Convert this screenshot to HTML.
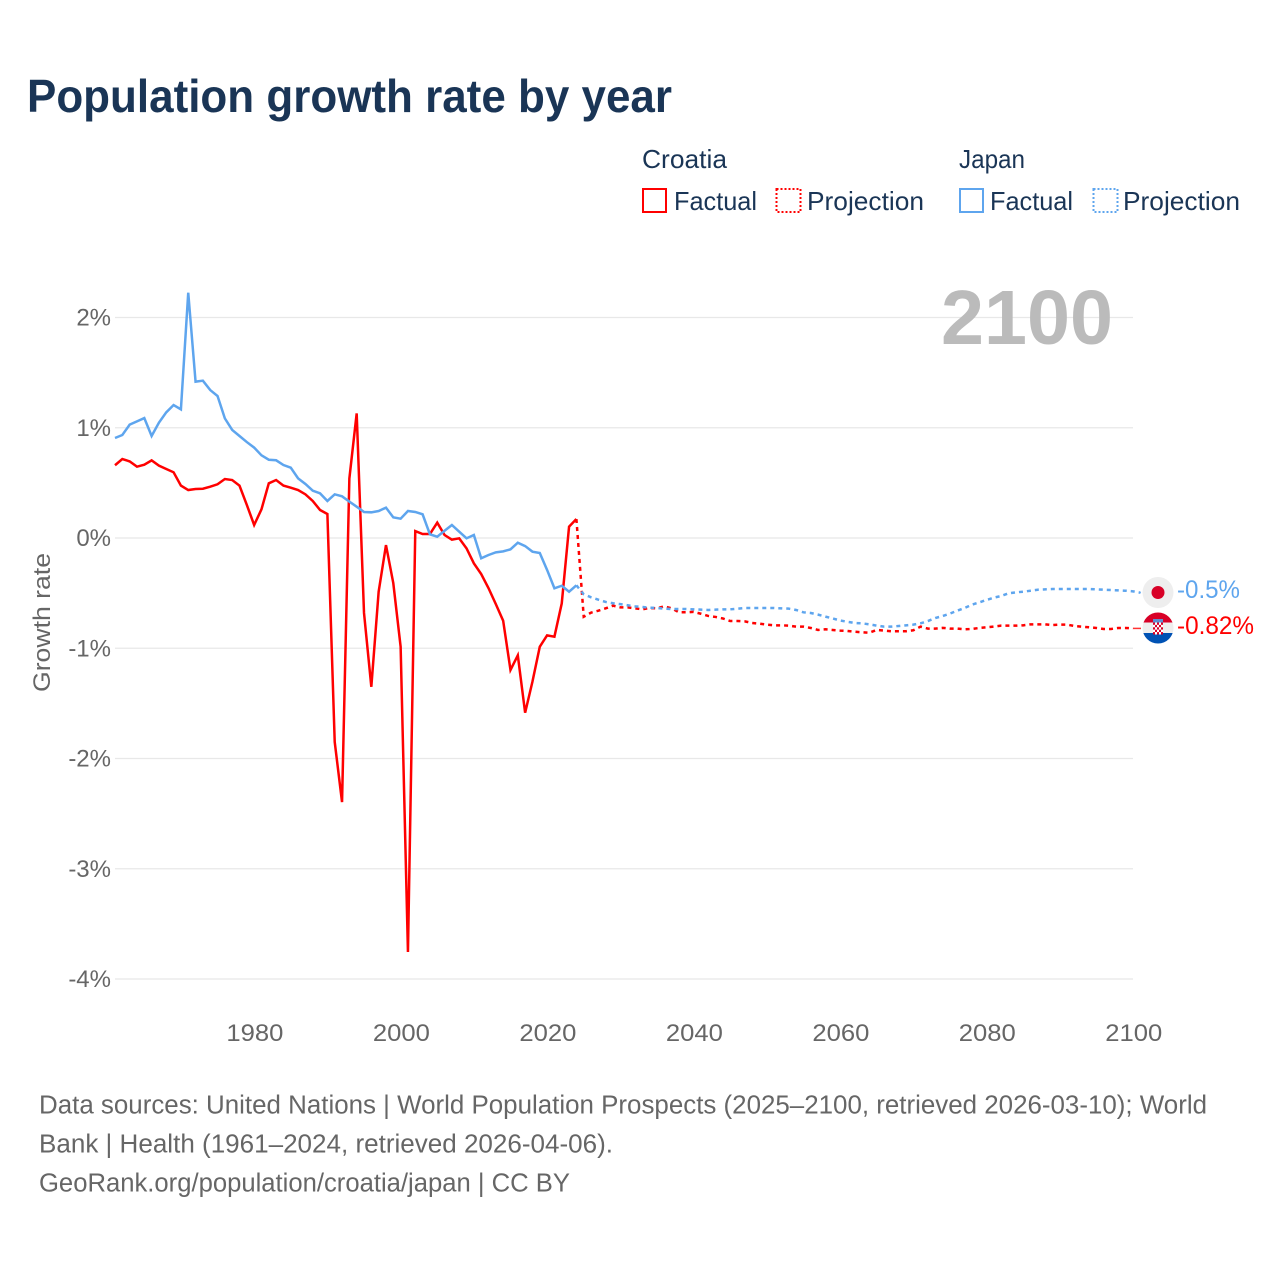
<!DOCTYPE html>
<html lang="en">
<head>
<meta charset="utf-8">
<title>Population growth rate by year</title>
<style>
html,body{margin:0;padding:0;background:#fff}
svg{display:block}
text{font-family:"Liberation Sans",sans-serif}
</style>
</head>
<body>
<svg id="chart" xmlns="http://www.w3.org/2000/svg" width="1280" height="1280" viewBox="0 0 1280 1280">
  <rect width="1280" height="1280" fill="#fff"/>
  <text x="27" y="112" font-size="46.5" font-weight="700" fill="#1a3556" textLength="645" lengthAdjust="spacingAndGlyphs">Population growth rate by year</text>

  <g font-size="26" fill="#1a3556">
    <text x="642" y="168" textLength="85" lengthAdjust="spacingAndGlyphs">Croatia</text>
    <rect x="643" y="189" width="23" height="23" fill="none" stroke="#ff0000" stroke-width="2"/>
    <text x="674" y="210" textLength="83" lengthAdjust="spacingAndGlyphs">Factual</text>
    <rect x="776.5" y="189" width="24" height="23" fill="none" stroke="#ff0000" stroke-width="2" stroke-dasharray="2 2"/>
    <text x="807" y="210" textLength="117" lengthAdjust="spacingAndGlyphs">Projection</text>
    <text x="959" y="168" textLength="66" lengthAdjust="spacingAndGlyphs">Japan</text>
    <rect x="960" y="189" width="23" height="23" fill="none" stroke="#5ea5ee" stroke-width="2"/>
    <text x="990" y="210" textLength="83" lengthAdjust="spacingAndGlyphs">Factual</text>
    <rect x="1093.5" y="189" width="24" height="23" fill="none" stroke="#5ea5ee" stroke-width="2" stroke-dasharray="2 2"/>
    <text x="1123" y="210" textLength="117" lengthAdjust="spacingAndGlyphs">Projection</text>
  </g>

  <g id="grid"></g>
  <g id="yticks"></g>
  <g id="xticks"></g>
  <text transform="translate(50,622.5) rotate(-90)" text-anchor="middle" font-size="24" fill="#666" textLength="139" lengthAdjust="spacingAndGlyphs">Growth rate</text>
  <text x="941" y="344" font-size="77" font-weight="700" fill="#bbbbbb" textLength="172" lengthAdjust="spacingAndGlyphs">2100</text>

  <g id="series"></g>

  <g>
    <circle cx="1158" cy="592.5" r="15.5" fill="#eeeeee"/>
    <circle cx="1158" cy="592.5" r="6.5" fill="#d80027"/>
  </g>
  <g>
    <clipPath id="hr-clip"><circle cx="1158" cy="628" r="15.5"/></clipPath>
    <g clip-path="url(#hr-clip)">
      <rect x="1142" y="612" width="32" height="10.5" fill="#d80027"/>
      <rect x="1142" y="622.5" width="32" height="10.5" fill="#eeeeee"/>
      <rect x="1142" y="633" width="32" height="11" fill="#0052b4"/>
    </g>
    <rect x="1153" y="619" width="10" height="3.5" fill="#5f8fd0"/>
    <g id="hr-shield"></g>
  </g>

  <text id="label-japan" x="1177" y="598" font-size="25" fill="#5ea5ee" textLength="63" lengthAdjust="spacingAndGlyphs">-0.5%</text>
  <text id="label-croatia" x="1177" y="634" font-size="25" fill="#ff0000" textLength="77" lengthAdjust="spacingAndGlyphs">-0.82%</text>

  <g font-size="25.5" fill="#666">
    <text x="39" y="1113.5" textLength="1168" lengthAdjust="spacingAndGlyphs">Data sources: United Nations | World Population Prospects (2025–2100, retrieved 2026-03-10); World</text>
    <text x="39" y="1152.5" textLength="574" lengthAdjust="spacingAndGlyphs">Bank | Health (1961–2024, retrieved 2026-04-06).</text>
    <text x="39" y="1191.5" textLength="531" lengthAdjust="spacingAndGlyphs">GeoRank.org/population/croatia/japan | CC BY</text>
  </g>
</svg>
<script>
const yTickValues = [2, 1, 0, -1, -2, -3, -4];
const xTickYears = [1980, 2000, 2020, 2040, 2060, 2080, 2100];
const factualStartYear = 1961;
const projectionStartYear = 2025;

const croatiaFactual = [
  0.66,0.716,0.695,0.647,0.665,0.704,0.656,0.626,0.596,0.475,
  0.435,0.444,0.447,0.465,0.487,0.535,0.526,0.475,0.30,0.118,
  0.26,0.496,0.526,0.475,0.456,0.435,0.396,0.336,0.254,0.218,
  -1.85,-2.395,0.54,1.13,-0.68,-1.35,-0.487,-0.064,-0.41,-0.986,
  -3.755,0.063,0.036,0.036,0.139,0.027,-0.015,-0.003,-0.094,-0.23,
  -0.327,-0.455,-0.6,-0.75,-1.197,-1.064,-1.585,-1.303,-0.986,-0.883,
  -0.895,-0.593,0.103,0.172
];
const japanFactual = [
  0.907,0.934,1.028,1.058,1.088,0.925,1.046,1.14,1.206,1.167,
  2.225,1.418,1.427,1.342,1.288,1.085,0.98,0.925,0.87,0.82,
  0.75,0.71,0.705,0.662,0.638,0.541,0.49,0.429,0.405,0.336,
  0.396,0.378,0.33,0.284,0.236,0.233,0.245,0.275,0.187,0.175,
  0.245,0.236,0.215,0.033,0.012,0.066,0.118,0.057,-0.003,0.027,
  -0.184,-0.154,-0.13,-0.121,-0.103,-0.043,-0.073,-0.124,-0.136,-0.29,
  -0.456,-0.433,-0.487,-0.429
];
const croatiaProjection = [
  -0.714,-0.677,-0.659,-0.638,-0.614,-0.629,-0.629,-0.638,-0.647,-0.635,
  -0.638,-0.62,-0.638,-0.674,-0.674,-0.67,-0.687,-0.707,-0.716,-0.73,
  -0.753,-0.753,-0.756,-0.771,-0.777,-0.786,-0.792,-0.792,-0.795,-0.804,
  -0.804,-0.816,-0.834,-0.828,-0.834,-0.84,-0.843,-0.85,-0.855,-0.859,
  -0.834,-0.84,-0.846,-0.846,-0.846,-0.837,-0.804,-0.822,-0.822,-0.815,
  -0.822,-0.822,-0.828,-0.825,-0.816,-0.81,-0.804,-0.795,-0.795,-0.795,
  -0.792,-0.783,-0.783,-0.783,-0.79,-0.786,-0.786,-0.798,-0.804,-0.81,
  -0.816,-0.825,-0.825,-0.816,-0.816,-0.82
];
const japanProjection = [
  -0.51,-0.538,-0.56,-0.58,-0.592,-0.60,-0.61,-0.62,-0.626,-0.632,
  -0.635,-0.641,-0.644,-0.644,-0.644,-0.647,-0.65,-0.653,-0.65,-0.647,
  -0.647,-0.641,-0.635,-0.635,-0.635,-0.635,-0.635,-0.638,-0.641,-0.653,
  -0.674,-0.68,-0.695,-0.713,-0.73,-0.748,-0.76,-0.771,-0.774,-0.783,
  -0.795,-0.804,-0.804,-0.798,-0.792,-0.786,-0.774,-0.753,-0.726,-0.708,
  -0.686,-0.659,-0.635,-0.605,-0.584,-0.562,-0.541,-0.526,-0.502,-0.493,
  -0.487,-0.478,-0.469,-0.466,-0.463,-0.463,-0.463,-0.463,-0.463,-0.463,
  -0.466,-0.469,-0.472,-0.475,-0.478,-0.484,-0.496
];

const SVG_NS = 'http://www.w3.org/2000/svg';
const RED = '#ff0000';
const BLUE = '#5ea5ee';
const xScale = year => 115 + (year - 1961) * (1133 - 115) / 139;
const yScale = value => 538 - value * 110.25;

function make(tag, parent, attrs) {
  const el = document.createElementNS(SVG_NS, tag);
  Object.keys(attrs).forEach(k => el.setAttribute(k, attrs[k]));
  parent.appendChild(el);
  return el;
}
function pathFrom(points) {
  return points.map((p, i) => (i ? 'L' : 'M') + xScale(p[0]).toFixed(2) + ' ' + yScale(p[1]).toFixed(2)).join(' ');
}
function toPoints(start, values) {
  return values.map((v, i) => [start + i, v]);
}

const gridG = document.getElementById('grid');
const yG = document.getElementById('yticks');
yTickValues.forEach(v => {
  const line = make('line', gridG, {x1: 115, x2: 1133, y1: yScale(v), y2: yScale(v), stroke: '#e8e8e8', 'stroke-width': 1.3});
  
  
  const t = make('text', yG, {x: 111, y: yScale(v) + 8, 'text-anchor': 'end', 'font-size': 24, fill: '#666'});
  
  
  t.textContent = v + '%';
});

const xG = document.getElementById('xticks');
xTickYears.forEach(y => {
  const t = make('text', xG, {x: xScale(y) + 0.8, y: 1041, 'text-anchor': 'middle', 'font-size': 24, fill: '#666', textLength: 57, lengthAdjust: 'spacingAndGlyphs'});
  
  
  t.textContent = y;
});

const seriesG = document.getElementById('series');
function drawSeries(factual, projection, color, slug) {
  const factualPts = toPoints(factualStartYear, factual);
  const projectionPts = [factualPts[factualPts.length - 1]].concat(toPoints(projectionStartYear, projection));
  const solid = make('path', seriesG, {d: pathFrom(factualPts), fill: 'none', stroke: color, 'stroke-width': 2.5, 'stroke-linejoin': 'miter'});
  
  
  const dashed = make('path', seriesG, {d: pathFrom(projectionPts), fill: 'none', stroke: color, 'stroke-width': 2.5, 'stroke-dasharray': '4 4'});
  
  
  const lastPoint = projectionPts[projectionPts.length - 1];
  const connector = make('line', seriesG, {x1: xScale(lastPoint[0]), x2: 1141, y1: yScale(lastPoint[1]), y2: yScale(lastPoint[1]), stroke: color, 'stroke-width': 1.5, opacity: 0.8});
  
  
}
drawSeries(croatiaFactual, croatiaProjection, RED, 'croatia');
drawSeries(japanFactual, japanProjection, BLUE, 'japan');

const shield = document.getElementById('hr-shield');
for (let r = 0; r < 5; r++) {
  for (let c = 0; c < 5; c++) {
    const cell = make('rect', shield, {x: 1153 + c * 2, y: 622.5 + r * 2.4, width: 2, height: 2.4, fill: (r + c) % 2 ? '#ffffff' : '#d80027'});
    
    
  }
}
</script>
</body>
</html>
